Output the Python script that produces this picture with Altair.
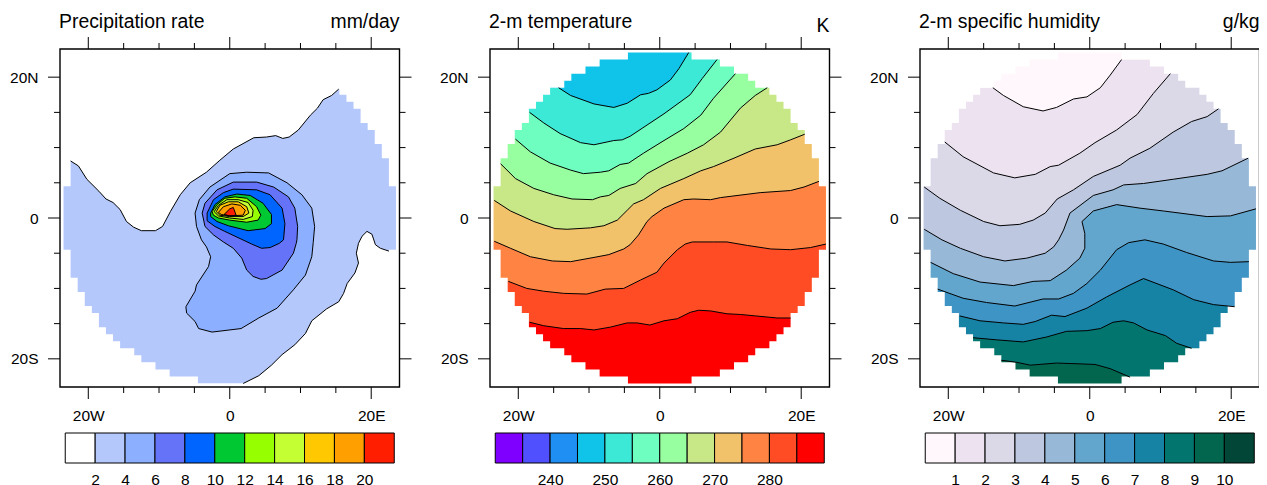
import altair as alt
import pandas as pd

FONT = "Liberation Sans"
W, H = 339.5, 338

# Grid outline of the data disc: half width (deg lon) per 1-degree row, north to south
STAIR_HALF = [4.5, 8.5, 10.5, 12.5, 13.5, 15.5, 16.5, 17.5, 18.5, 18.5, 19.5, 20.5, 20.5,
              21.5, 21.5, 22.5, 22.5, 22.5, 22.5] + [23.5] * 9 + \
             [22.5, 22.5, 22.5, 22.5, 21.5, 21.5, 20.5, 20.5, 19.5, 18.5, 18.5, 17.5, 16.5,
              15.5, 13.5, 12.5, 10.5, 8.5, 4.5]
STAIR_TOP = 23.5

# ---------------- Precipitation contours (lon, lat) ----------------
P2_NORTH = [(-22.5, 8.1), (-21.4, 7.4), (-20.2, 5.5), (-18.5, 3.8), (-17.5, 2.7), (-16.5, 2.2),
            (-15.5, 1.2), (-14.6, -0.5), (-13.6, -1.3), (-12.5, -1.8), (-10.5, -1.8), (-9.5, -1.2),
            (-8.4, 0.9), (-7.0, 3.3), (-5.6, 5.0), (-3.3, 6.5), (-1.4, 8.2), (0.5, 9.8), (3.4, 11.4),
            (5.2, 11.5), (6.5, 11.7), (7.5, 11.3), (8.4, 11.5), (9.7, 12.5), (11.4, 14.6), (12.4, 15.6),
            (13.2, 16.8), (14.4, 17.4), (15.4, 18.3)]
P2_SOUTH = [(22.5, -4.7), (21.3, -4.3), (20.6, -3.8), (20.1, -2.3), (19.4, -1.9), (18.7, -2.6),
            (18.2, -3.6), (17.9, -5.0), (18.2, -6.4), (17.7, -7.8), (16.6, -9.3), (16.1, -10.7),
            (15.4, -11.9), (13.7, -12.9), (11.6, -14.6), (10.7, -16.4), (9.2, -18.0), (7.4, -19.4),
            (5.9, -20.9), (4.1, -22.4), (1.9, -23.5)]
P4 = [(-4.9, 0.7), (-4.3, 2.6), (-2.8, 4.4), (0.0, 6.3), (2.4, 6.5), (5.5, 6.4), (8.1, 5.0), (10.2, 3.3),
      (11.6, 1.4), (12.0, -1.2), (11.8, -3.5), (11.6, -5.5), (10.7, -8.1), (9.0, -10.2), (6.7, -12.8),
      (4.1, -14.2), (1.6, -15.7), (-2.5, -16.2), (-4.4, -15.7), (-4.9, -14.7), (-6.1, -13.5), (-6.2, -12.6),
      (-4.9, -10.4), (-4.7, -9.5), (-3.0, -6.9), (-2.7, -5.5), (-3.3, -4.1), (-4.0, -3.1), (-4.7, -1.2)]
P6 = [(-3.9, 0.7), (-3.5, 2.1), (-1.8, 4.0), (0.5, 5.1), (3.8, 5.1), (6.2, 4.4), (8.3, 3.0), (9.2, 1.4),
      (9.6, -1.2), (9.5, -3.1), (9.4, -3.6), (9.0, -5.0), (7.4, -7.4), (5.2, -8.6), (4.4, -8.7), (3.3, -8.3),
      (2.4, -7.4), (1.7, -5.7), (0.5, -4.3), (-0.9, -3.4), (-2.3, -2.4), (-3.5, -1.2)]
P8 = [(-3.2, 0.7), (-2.3, 2.6), (-0.9, 3.6), (0.5, 4.1), (3.8, 4.0), (5.7, 3.3), (7.4, 1.4), (7.8, -0.8),
      (7.6, -3.1), (7.0, -3.6), (5.7, -4.2), (4.5, -4.3), (3.1, -3.7), (-0.7, -1.9), (-2.1, -1.2), (-3.2, -0.4)]
P10 = [(-2.7, 0.7), (-2.1, 1.9), (-0.7, 3.0), (1.0, 3.4), (2.9, 3.2), (4.7, 2.1), (5.9, 0.5), (5.9, -0.8),
       (5.0, -1.5), (2.6, -1.8), (-0.2, -1.1), (-1.8, -0.5), (-2.7, 0.2)]
P12 = [(-2.5, 0.9), (-1.8, 1.9), (-0.7, 2.8), (0.75, 3.0), (2.4, 2.8), (3.8, 1.6), (4.4, 0.4), (4.0, -0.3),
       (2.4, -0.6), (0.0, -0.3), (-1.6, 0.0), (-2.3, 0.4)]
P14 = [(-2.2, 0.9), (-1.6, 1.8), (-0.4, 2.6), (1.2, 2.6), (2.6, 2.2), (3.3, 1.1), (3.2, 0.2), (1.9, -0.2),
       (0.0, 0.0), (-1.6, 0.3)]
P16 = [(-1.9, 0.9), (-1.4, 1.8), (-0.2, 2.3), (1.2, 2.3), (2.4, 1.6), (2.7, 0.7), (1.9, 0.2), (0.0, 0.2), (-1.4, 0.4)]
P18 = [(-1.6, 0.8), (-0.9, 1.6), (0.3, 2.0), (1.5, 1.8), (2.2, 1.1), (1.9, 0.4), (0.0, 0.3), (-1.2, 0.5)]
P20 = [(-0.8, 0.5), (0.0, 1.3), (0.5, 1.5), (0.9, 0.4), (0.0, 0.3)]

# ---------------- Temperature contours, north to south ----------------
T_LINES = [
    [(-14.3, 18.5), (-12.6, 17.4), (-9.3, 16.2), (-6.5, 15.7), (-4.6, 16.3), (-2.7, 17.5), (-1.6, 17.7), (-0.4, 18.2),
     (1.5, 19.6), (2.7, 21.2), (4.1, 23.5)],
    [(-18.4, 15.0), (-16.4, 13.5), (-14.1, 12.0), (-11.2, 10.7), (-9.3, 10.4), (-6.5, 11.0), (-5.3, 11.1), (-4.2, 11.6),
     (-1.8, 13.2), (0.6, 14.8), (4.3, 17.5), (6.0, 19.8), (8.1, 22.5)],
    [(-20.4, 11.2), (-18.3, 9.4), (-15.5, 7.8), (-12.6, 6.8), (-10.8, 6.3), (-8.4, 6.5), (-7.2, 6.7), (-5.6, 7.6),
     (-4.4, 7.8), (-2.3, 9.2), (0.6, 11.0), (3.4, 12.7), (5.8, 14.6), (7.6, 17.0), (10.7, 20.5)],
    [(-22.5, 7.7), (-20.4, 5.6), (-17.8, 4.2), (-15.0, 3.3), (-12.4, 2.7), (-9.5, 2.6), (-8.4, 3.0), (-7.2, 3.2),
     (-5.6, 4.2), (-3.4, 4.9), (-1.8, 6.3), (1.3, 8.0), (3.9, 9.2), (6.2, 10.4), (8.6, 12.2), (11.4, 15.6),
     (13.5, 17.4), (15.2, 18.5)],
    [(-23.4, 2.5), (-21.1, 1.0), (-17.8, -0.5), (-14.8, -1.5), (-13.1, -1.6), (-9.8, -1.4), (-7.9, -1.1), (-6.0, -0.3),
     (-4.6, 1.1), (-3.7, 2.0), (-2.3, 2.6), (0.1, 4.2), (3.4, 5.6), (5.8, 6.7), (7.6, 7.3), (10.5, 8.5), (13.5, 9.8),
     (16.6, 10.4), (18.5, 11.1), (20.5, 11.9)],
    [(-23.4, -3.3), (-21.1, -4.3), (-18.3, -5.5), (-15.2, -6.1), (-12.6, -6.2), (-9.3, -5.6), (-7.2, -5.2), (-5.1, -4.4),
     (-4.2, -3.8), (-3.0, -2.4), (-1.8, -0.5), (-1.1, 0.2), (0.6, 1.4), (3.4, 2.6), (4.8, 2.7), (7.2, 2.6), (8.6, 2.9),
     (14.2, 3.6), (18.5, 3.9), (20.4, 4.4), (22.5, 5.2)],
    [(-21.4, -9.0), (-18.8, -10.0), (-16.4, -10.4), (-13.6, -10.7), (-10.3, -10.8), (-7.7, -10.1), (-5.1, -10.0),
     (-2.7, -8.8), (-0.4, -7.7), (0.6, -6.4), (2.5, -4.5), (3.6, -3.7), (4.6, -3.4), (7.6, -3.4), (9.5, -3.4),
     (12.4, -3.9), (15.7, -4.4), (18.5, -4.5), (21.3, -4.2), (23.5, -3.7)],
    [(-18.4, -14.8), (-16.4, -15.3), (-13.6, -15.7), (-11.2, -15.7), (-9.3, -15.9), (-7.0, -15.5), (-4.6, -14.9),
     (-3.2, -14.9), (-1.4, -15.2), (0.6, -14.6), (2.5, -14.3), (4.3, -13.4), (5.5, -13.1), (7.2, -13.2), (9.5, -13.6),
     (11.4, -13.7), (13.5, -13.9), (16.6, -14.2), (18.5, -14.2)],
]

# ---------------- Humidity contours, north to south ----------------
Q_LINES = [
    [(-13.7, 18.5), (-12.2, 17.4), (-9.4, 15.8), (-6.6, 15.2), (-4.7, 15.7), (-2.3, 16.9), (-0.4, 17.2), (1.5, 18.5),
     (2.9, 20.3), (4.5, 22.5)],
    [(-20.5, 10.8), (-17.9, 8.7), (-13.6, 6.4), (-10.6, 5.7), (-7.7, 6.2), (-5.6, 7.3), (-4.4, 7.5), (-1.4, 9.2),
     (0.75, 10.7), (3.8, 12.5), (6.7, 14.7), (9.0, 17.7), (11.4, 20.5)],
    [(-23.4, 4.4), (-21.2, 2.8), (-18.3, 1.1), (-15.0, -0.5), (-12.7, -1.1), (-9.9, -0.9), (-8.0, -0.3), (-6.3, 0.7),
     (-4.6, 2.7), (-2.3, 4.0), (0.5, 5.9), (4.3, 7.5), (5.7, 8.5), (8.5, 9.9), (11.8, 12.2), (14.4, 13.7), (16.6, 14.4),
     (18.2, 15.5)],
    [(-23.4, -1.6), (-20.9, -3.1), (-18.3, -4.3), (-15.0, -5.5), (-12.0, -6.1), (-8.9, -5.7), (-6.3, -5.0), (-5.1, -4.1),
     (-4.4, -3.1), (-3.7, -1.7), (-2.8, 0.7), (0.5, 3.2), (3.3, 4.0), (4.8, 4.7), (7.6, 4.9), (11.8, 5.5), (16.6, 6.2),
     (18.7, 6.7), (22.4, 8.5)],
    [(-22.5, -6.3), (-19.3, -7.9), (-15.5, -9.1), (-10.8, -9.6), (-8.0, -9.0), (-5.6, -8.9), (-3.3, -7.4), (-1.4, -5.7),
     (-0.7, -4.3), (-0.7, -3.1), (-0.7, -2.2), (-1.1, -0.5), (0.5, 1.0), (3.8, 1.9), (7.1, 1.4), (10.4, 1.0), (16.6, 0.2),
     (19.9, 0.3), (23.5, 1.3)],
    [(-21.5, -10.1), (-17.9, -11.4), (-14.6, -12.0), (-10.6, -12.5), (-6.6, -11.5), (-4.4, -11.5), (-2.3, -10.7),
     (-0.4, -9.3), (1.5, -7.4), (3.8, -4.5), (5.5, -3.5), (7.8, -3.1), (10.4, -3.7), (13.7, -4.9), (17.5, -6.1),
     (19.9, -6.3), (22.5, -6.2)],
    [(-18.4, -13.9), (-15.5, -14.6), (-12.2, -14.9), (-9.4, -15.1), (-7.7, -14.7), (-5.4, -13.8), (-3.5, -14.0),
     (-0.4, -12.8), (2.4, -11.2), (5.7, -9.5), (7.6, -8.6), (11.8, -10.2), (14.7, -11.6), (17.5, -12.3), (20.5, -12.6)],
    [(-16.5, -17.0), (-13.2, -17.3), (-9.4, -17.6), (-6.1, -16.9), (-3.3, -16.1), (-0.4, -16.0), (1.5, -15.7), (3.3, -14.8),
     (4.8, -14.6), (6.2, -14.9), (8.1, -15.9), (10.7, -16.7), (12.3, -17.8), (14.4, -18.5)],
    [(-12.5, -20.2), (-10.3, -20.5), (-8.4, -20.9), (-4.7, -20.6), (-1.8, -20.7), (0.75, -20.8), (2.9, -21.4), (5.7, -22.6)],
]

P_COLORS = ["#ffffff", "#b4c8fb", "#8cb0ff", "#6473f8", "#0064ff", "#00c832", "#96ff00", "#c3ff32", "#ffc800", "#ffa000", "#ff1e00"]
T_COLORS = ["#8000ff", "#5050ff", "#1f8ff3", "#10c3e8", "#3ce8d6", "#6effc0", "#98ffa0", "#c8e888", "#f2c26a", "#ff8444", "#ff4c24", "#ff0000"]
Q_COLORS = ["#fff7fb", "#ede3f0", "#dbd8e8", "#bdc8e0", "#98b8d8", "#62a5cd", "#3e94c4", "#1683a4", "#02766e", "#02664f", "#014636"]

P_LEVELS = [0, 2, 4, 6, 8, 10, 12, 14, 16, 18, 20, 22]
T_LEVELS = [230, 235, 240, 245, 250, 255, 260, 265, 270, 275, 280, 285, 290]
Q_LEVELS = [0, 1, 2, 3, 4, 5, 6, 7, 8, 9, 10, 11]
P_LABELS = [2, 4, 6, 8, 10, 12, 14, 16, 18, 20]
T_LABELS = [240, 250, 260, 270, 280]
Q_LABELS = [1, 2, 3, 4, 5, 6, 7, 8, 9, 10]

MAJOR = [-20, 0, 20]
MINOR = [-15, -10, -5, 5, 10, 15]

X_SCALE = alt.Scale(domain=[-24, 24], nice=False, zero=False)
Y_SCALE = alt.Scale(domain=[-24, 24], nice=False, zero=False)
AXIS_X = alt.Axis(values=MAJOR, title=None, grid=False, domain=False, ticks=False, labelFont=FONT, labelFontSize=15.5,
                  labelColor="black", labelPadding=21, labelAngle=0, orient="bottom", labelFlush=False,
                  labelExpr="datum.value==0?'0':(datum.value<0?(-datum.value)+'W':datum.value+'E')")
AXIS_Y = alt.Axis(values=MAJOR, title=None, grid=False, domain=False, ticks=False, labelFont=FONT, labelFontSize=15.5,
                  labelColor="black", labelPadding=22, orient="left", labelFlush=False,
                  labelExpr="datum.value==0?'0':(datum.value<0?(-datum.value)+'S':datum.value+'N')")


def frame(pts):
    return pd.DataFrame({"lon": [p[0] for p in pts], "lat": [p[1] for p in pts], "i": list(range(len(pts)))})


def enc(chart):
    return chart.encode(
        x=alt.X("lon:Q", scale=X_SCALE, axis=AXIS_X),
        y=alt.Y("lat:Q", scale=Y_SCALE, axis=AXIS_Y),
        order="i:Q",
    )


def fill(pts, color):
    return enc(alt.Chart(frame(pts)).mark_line(fill=color, stroke=color, strokeWidth=0, interpolate="linear", clip=True))


def line(pts):
    return enc(alt.Chart(frame(pts)).mark_line(stroke="black", strokeWidth=1, interpolate="linear", clip=True))


def below(contour):
    return [(-24, contour[0][1])] + contour + [(24, contour[-1][1]), (24, -24), (-24, -24)]


def mask_ring():
    outer = [(-24, 24), (24, 24), (24, -24), (-24, -24), (-24, 24)]
    left, right = [], []
    lat = STAIR_TOP
    for hw in STAIR_HALF:
        left += [(-hw, lat), (-hw, lat - 1)]
        right += [(hw, lat), (hw, lat - 1)]
        lat -= 1
    return outer + left + right[::-1] + [left[0], (-24, 24)]


def decorations(title, unit, unit_base):
    layers = []
    for vals, size in ((MAJOR, 12), (MINOR, 6)):
        d = pd.DataFrame({"v": vals})
        for a, b in ((-size, 0), (H, H + size)):
            layers.append(alt.Chart(d).mark_rule(color="black", strokeWidth=1).encode(
                x=alt.X("v:Q", scale=X_SCALE, axis=AXIS_X), y=alt.value(a), y2=alt.value(b)))
        for a, b in ((-size, 0), (W, W + size)):
            layers.append(alt.Chart(d).mark_rule(color="black", strokeWidth=1).encode(
                y=alt.Y("v:Q", scale=Y_SCALE, axis=AXIS_Y), x=alt.value(a), x2=alt.value(b)))
    layers.append(alt.Chart(pd.DataFrame({"t": [0]})).mark_rect(filled=False, stroke="black", strokeWidth=1.4).encode(
        x=alt.value(0), x2=alt.value(W), y=alt.value(0), y2=alt.value(H)))
    layers.append(alt.Chart(pd.DataFrame({"t": [title]})).mark_text(
        align="left", baseline="alphabetic", font=FONT, fontSize=19.4, color="black").encode(
        x=alt.value(-1), y=alt.value(-21), text="t:N"))
    layers.append(alt.Chart(pd.DataFrame({"t": [unit]})).mark_text(
        align="right", baseline="alphabetic", font=FONT, fontSize=19.4, color="black").encode(
        x=alt.value(W), y=alt.value(unit_base), text="t:N"))
    return layers


def colorbar(levels, colors, labels, pad):
    d = pd.DataFrame({"a": levels[:-1], "b": levels[1:], "c": colors})
    return alt.Chart(d, width=W, height=30).mark_rect(stroke="black", strokeWidth=1).encode(
        x=alt.X("a:Q", scale=alt.Scale(domain=[levels[0] - pad, levels[-1] + pad], nice=False, zero=False),
                axis=alt.Axis(values=labels, title=None, grid=False, domain=False, ticks=False, labelFont=FONT,
                              labelFontSize=15.5, labelColor="black", labelPadding=9, format="d", labelAngle=0,
                              labelFlush=False, labelOverlap=False)),
        x2="b:Q",
        y=alt.value(0),
        y2=alt.value(30),
        fill=alt.Fill("c:N", scale=None),
    )


def panel(fills, lines, title, unit, unit_base):
    base = alt.layer(*(fills + [fill(mask_ring(), "white")] + lines + decorations(title, unit, unit_base)))
    return base.properties(width=W, height=H)


# Precipitation
p_fills = [fill(P2_NORTH + [(24, 18.3), (24, -4.7)] + P2_SOUTH + [(-24, -23.5), (-24, 8.1)], P_COLORS[1])]
for loop, col in zip([P4, P6, P8, P10, P12, P14, P16, P18, P20], P_COLORS[2:]):
    p_fills.append(fill(loop, col))
p_lines = [line(P2_NORTH), line(P2_SOUTH)] + [line(l + l[:1]) for l in [P4, P6, P8, P10, P12, P14, P16, P18, P20]]
FULL = [(-24, 24), (24, 24), (24, -24), (-24, -24)]

# Temperature
t_fills = [fill(FULL, T_COLORS[3])] + [fill(below(l), c) for l, c in zip(T_LINES, T_COLORS[4:])]
t_lines = [line(l) for l in T_LINES]

# Humidity
q_fills = [fill(FULL, Q_COLORS[0])] + [fill(below(l), c) for l, c in zip(Q_LINES, Q_COLORS[1:])]
q_lines = [line(l) for l in Q_LINES]

chart = alt.concat(
    panel(p_fills, p_lines, "Precipitation rate", "mm/day", -21),
    panel(t_fills, t_lines, "2-m temperature", "K", -17),
    panel(q_fills, q_lines, "2-m specific humidity", "g/kg", -21),
    colorbar(P_LEVELS, P_COLORS, P_LABELS, 0.351),
    colorbar(T_LEVELS, T_COLORS, T_LABELS, 0.957),
    colorbar(Q_LEVELS, Q_COLORS, Q_LABELS, 0.1755),
    columns=3, spacing={"row": 46, "column": 90},
    bounds="flush",
).properties(
    padding={"left": 1, "top": 4, "right": -13, "bottom": 0}, background="white"
).configure_view(stroke=None)

chart.save("out.html", embed_options={"renderer": "svg", "actions": False})
